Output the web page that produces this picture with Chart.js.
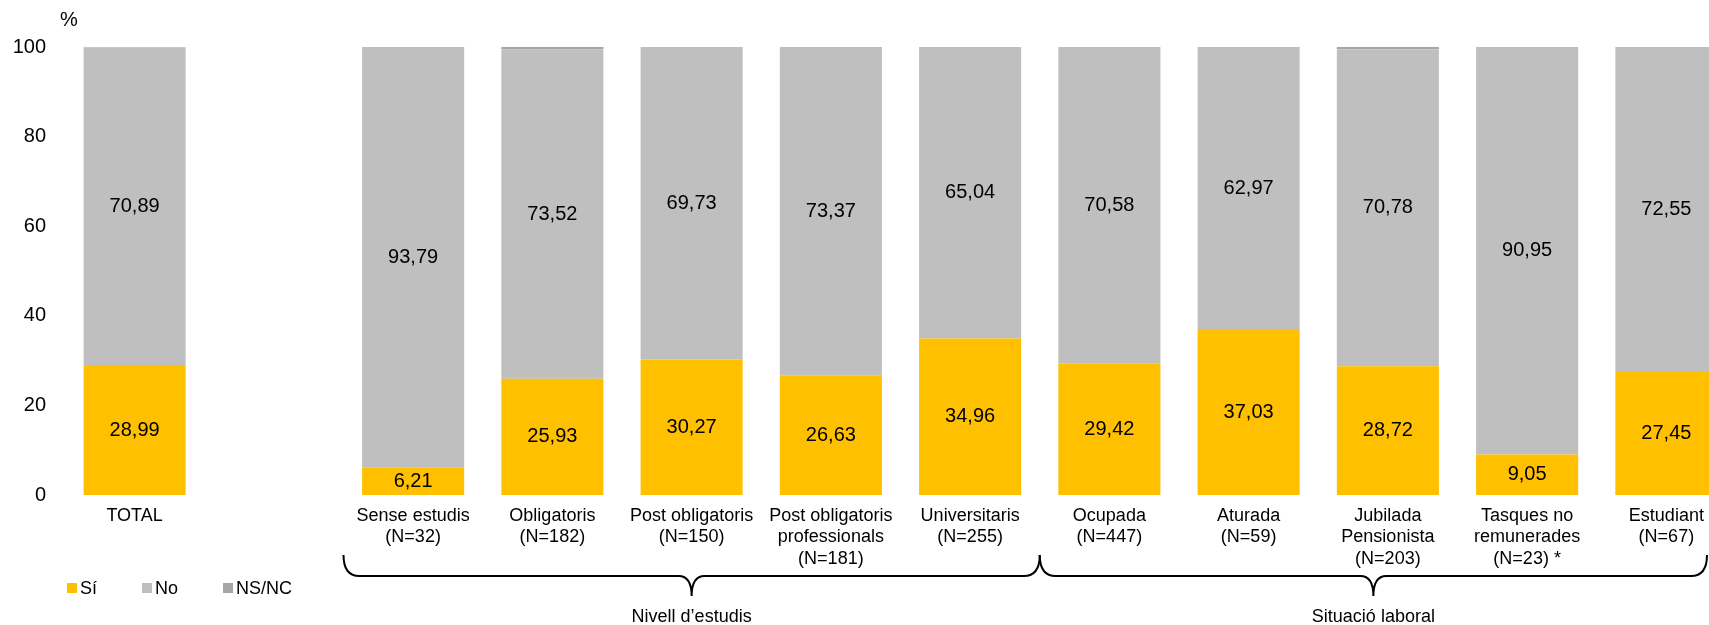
<!DOCTYPE html>
<html lang="ca">
<head>
<meta charset="utf-8" />
<title>Sí / No / NS-NC per nivell d'estudis i situació laboral</title>
<script src="https://cdn.jsdelivr.net/npm/chart.js"></script>
<style>
    html, body { margin: 0; padding: 0; background: #fff; overflow: hidden; }
    #wrap { position: relative; width: 1760px; height: 625px; }
</style>
</head>
<body>
<div id="wrap"><canvas id="chart"></canvas></div>
<script>
    const categories = [
        ['TOTAL'],
        '',
        ['Sense estudis', '(N=32)'],
        ['Obligatoris', '(N=182)'],
        ['Post obligatoris', '(N=150)'],
        ['Post obligatoris', 'professionals', '(N=181)'],
        ['Universitaris', '(N=255)'],
        ['Ocupada', '(N=447)'],
        ['Aturada', '(N=59)'],
        ['Jubilada', 'Pensionista', '(N=203)'],
        ['Tasques no', 'remunerades', '(N=23) *'],
        ['Estudiant', '(N=67)']
    ];
    const siValues   = [28.99, null, 6.21, 25.93, 30.27, 26.63, 34.96, 29.42, 37.03, 28.72, 9.05, 27.45];
    const noValues   = [70.89, null, 93.79, 73.52, 69.73, 73.37, 65.04, 70.58, 62.97, 70.78, 90.95, 72.55];
    const nsncValues = [0.12, null, 0, 0.55, 0, 0, 0, 0, 0, 0.50, 0, 0];
    const yTicks = [0, 20, 40, 60, 80, 100];
    const groups = [
        { label: 'Nivell d\u2019estudis', from: 2, to: 6 },
        { label: 'Situació laboral', from: 7, to: 11 }
    ];

    const FONT = '"Liberation Sans", Arial, sans-serif';

    function fmt(v) {
        return v.toFixed(2).replace('.', ',');
    }

    // labels inside the bars, centred in each segment
    const valueLabels = {
        id: 'valueLabels',
        afterDatasetsDraw(chart) {
            const ctx = chart.ctx;
            ctx.save();
            ctx.font = '20px ' + FONT;
            ctx.fillStyle = '#000';
            ctx.textAlign = 'center';
            ctx.textBaseline = 'middle';
            [0, 1].forEach(di => {
                const meta = chart.getDatasetMeta(di);
                const data = chart.data.datasets[di].data;
                meta.data.forEach((bar, i) => {
                    if (!data[i]) return;
                    ctx.fillText(fmt(data[i]), bar.x, (bar.y + bar.base) / 2);
                });
            });
            ctx.restore();
        }
    };

    function drawBrace(ctx, x1, x2, yTop, yLine, yTip) {
        const xm = (x1 + x2) / 2;
        const r = 16, t = 13;
        ctx.beginPath();
        ctx.moveTo(x1, yTop);
        ctx.quadraticCurveTo(x1, yLine, x1 + r, yLine);
        ctx.lineTo(xm - t, yLine);
        ctx.quadraticCurveTo(xm, yLine, xm, yTip);
        ctx.quadraticCurveTo(xm, yLine, xm + t, yLine);
        ctx.lineTo(x2 - r, yLine);
        ctx.quadraticCurveTo(x2, yLine, x2, yTop);
        ctx.stroke();
    }

    // "%" title, legend, group braces
    const extras = {
        id: 'extras',
        afterDraw(chart) {
            const ctx = chart.ctx;
            const xs = chart.scales.x;
            const area = chart.chartArea;
            const slot = (area.right - area.left) / categories.length;
            ctx.save();

            ctx.fillStyle = '#000';
            ctx.font = '20px ' + FONT;
            ctx.textAlign = 'center';
            ctx.textBaseline = 'middle';
            ctx.fillText('%', 69, 20);

            // legend
            ctx.font = '18px ' + FONT;
            ctx.textAlign = 'left';
            const legendX = [67, 142, 223];
            chart.data.datasets.forEach((ds, i) => {
                ctx.fillStyle = ds.backgroundColor;
                ctx.fillRect(legendX[i], 583, 10, 10);
                ctx.fillStyle = '#000';
                ctx.fillText(ds.label, legendX[i] + 13, 589);
            });

            // braces
            ctx.strokeStyle = '#000';
            ctx.lineWidth = 2;
            ctx.font = '18px ' + FONT;
            ctx.textAlign = 'center';
            const visibleRight = 1707;
            groups.forEach(g => {
                const x1 = xs.getPixelForValue(g.from) - slot / 2;
                const x2 = Math.min(xs.getPixelForValue(g.to) + slot / 2, visibleRight);
                drawBrace(ctx, x1, x2, 555, 576, 596);
                ctx.fillStyle = '#000';
                ctx.fillText(g.label, (x1 + x2) / 2, 617);
            });
            ctx.restore();
        }
    };

    new Chart(document.getElementById('chart'), {
        type: 'bar',
        data: {
            labels: categories,
            datasets: [
                { label: 'Sí', data: siValues, backgroundColor: '#FFC000' },
                { label: 'No', data: noValues, backgroundColor: '#BFBFBF' },
                { label: 'NS/NC', data: nsncValues, backgroundColor: '#A6A6A6' }
            ]
        },
        options: {
            responsive: true,
            maintainAspectRatio: false,
            animation: false,
            layout: { padding: { left: 0, top: 47, right: 24, bottom: 0 } },
            datasets: {
                bar: { barPercentage: 0.733, categoryPercentage: 1, borderWidth: 0 }
            },
            plugins: {
                legend: { display: false },
                tooltip: { enabled: false }
            },
            scales: {
                x: {
                    stacked: true,
                    grid: { display: false, drawTicks: false },
                    border: { display: false },
                    ticks: {
                        color: '#000',
                        font: { family: FONT, size: 18 },
                        padding: 10,
                        maxRotation: 0,
                        autoSkip: false
                    },
                    afterFit(scale) { scale.height = 130; }
                },
                y: {
                    stacked: true,
                    min: 0,
                    max: 100,
                    grid: { display: false, drawTicks: false },
                    border: { display: false },
                    afterBuildTicks(scale) {
                        scale.ticks = yTicks.map(v => ({ value: v }));
                    },
                    ticks: {
                        color: '#000',
                        font: { family: FONT, size: 20 },
                        padding: 19
                    },
                    afterFit(scale) { scale.width = 65; }
                }
            }
        },
        plugins: [valueLabels, extras]
    });
</script>
</body>
</html>
